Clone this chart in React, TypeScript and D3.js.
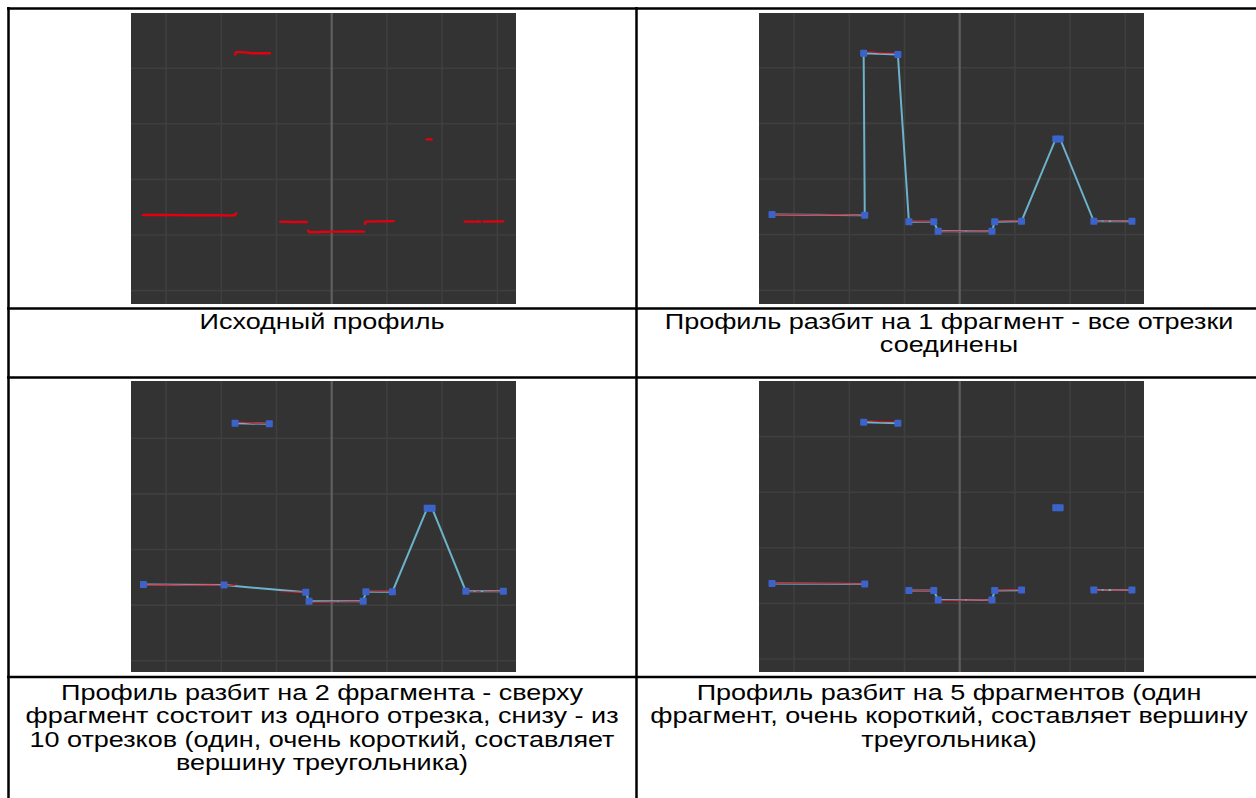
import React from "react";
import * as d3 from "d3";

// ---------- data (units: one grid cell = 1) ----------
const gridXTicks = [-3, -2, -1, 1, 2, 3];
const gridYTicks = [0, 1, 2, 3, 4];

// raw profile pieces (red point clouds)
const rawA: [number, number][] = [[-3.42, 1.36], [-3.0, 1.362], [-2.6, 1.355], [-2.2, 1.358], [-1.9, 1.35], [-1.76, 1.352], [-1.73, 1.39]];
const rawB: [number, number][] = [[-1.75, 4.25], [-1.73, 4.29], [-1.6, 4.29], [-1.45, 4.27], [-1.12, 4.268]];
const rawC: [number, number][] = [[-0.93, 1.24], [-0.7, 1.235], [-0.45, 1.235]];
const rawD1: [number, number][] = [[-0.43, 1.08], [-0.4, 1.05], [-0.2, 1.055], [0.1, 1.06]];
const rawD2: [number, number][] = [[0.13, 1.06], [0.4, 1.062], [0.585, 1.06]];
const rawE: [number, number][] = [[0.6, 1.2], [0.62, 1.24], [0.9, 1.245], [1.12, 1.25]];
const rawF: [number, number][] = [[1.72, 2.72], [1.81, 2.72]];
const rawG1: [number, number][] = [[2.41, 1.24], [2.57, 1.24]];
const rawG2: [number, number][] = [[2.61, 1.24], [2.69, 1.242]];
const rawG3: [number, number][] = [[2.75, 1.24], [3.11, 1.245]];
const rawPieces = [rawA, rawB, rawC, rawD1, rawD2, rawE, rawF, rawG1, rawG2, rawG3];

// fitted nodes (1 fragment / 5 fragments)
const nodes: [number, number][] = [
  [-3.4, 1.36], [-1.72, 1.35], [-1.74, 4.26], [-1.12, 4.24], [-0.92, 1.23], [-0.47, 1.23], [-0.39, 1.06],
  [0.585, 1.06], [0.634, 1.23], [1.12, 1.24], [1.74, 2.72], [1.82, 2.72], [2.43, 1.24], [3.12, 1.24],
];
const fragmentsOne = [[0, 1, 2, 3, 4, 5, 6, 7, 8, 9, 10, 11, 12, 13]];
const fragmentsFive = [[0, 1], [2, 3], [4, 5, 6, 7, 8, 9], [10, 11], [12, 13]];

// 2 fragments
const twoTop: [number, number][] = [[-1.75, 4.27], [-1.13, 4.26]];
const twoBottom: [number, number][] = [
  [-3.41, 1.37], [-1.95, 1.36], [-0.47, 1.23], [-0.41, 1.07], [0.57, 1.07], [0.62, 1.24],
  [1.1, 1.24], [1.73, 2.74], [1.82, 2.74], [2.43, 1.25], [3.11, 1.25],
];

const captions1 = ["Исходный профиль"];
const captions2 = ["Профиль разбит на 1 фрагмент - все отрезки", "соединены"];
const captions3 = [
  "Профиль разбит на 2 фрагмента - сверху",
  "фрагмент состоит из одного отрезка, снизу - из",
  "10 отрезков (один, очень короткий, составляет",
  "вершину треугольника)",
];
const captions4 = [
  "Профиль разбит на 5 фрагментов (один",
  "фрагмент, очень короткий, составляет вершину",
  "треугольника)",
];

// ---------- layout ----------
const PW = 385, PH = 291;
const BG = "#333333";
const GRID = "#3f3f3f";
const CENTER = "#5f5f5f";
const RED = "#e5000f";
const CYAN = "#6cb2cb";
const BLUE = "#3b63c9";

type Fit = [number, number][][];

function Plot({ x0, y0, yZero, fits, raw }: { x0: number; y0: number; yZero: number; fits: Fit | null; raw: boolean }) {
  const xs = d3.scaleLinear().domain([0, 1]).range([x0 + 200.7, x0 + 200.7 + 55.2]);
  const ys = d3.scaleLinear().domain([0, 1]).range([y0 + yZero, y0 + yZero - 55.6]);
  const line = d3.line<[number, number]>().x((d) => xs(d[0])).y((d) => ys(d[1]));
  const clipId = `clip-${x0}-${y0}`;
  return (
    <g>
      <defs>
        <clipPath id={clipId}>
          <rect x={x0} y={y0} width={PW} height={PH} />
        </clipPath>
      </defs>
      <rect x={x0} y={y0} width={PW} height={PH} fill={BG} />
      <g clipPath={`url(#${clipId})`}>
        {gridXTicks.map((t) => (
          <line key={"gx" + t} x1={xs(t)} x2={xs(t)} y1={y0} y2={y0 + PH} stroke={GRID} strokeWidth={1.6} />
        ))}
        {gridYTicks.map((t) => (
          <line key={"gy" + t} x1={x0} x2={x0 + PW} y1={ys(t)} y2={ys(t)} stroke={GRID} strokeWidth={1.6} />
        ))}
        <line x1={xs(0)} x2={xs(0)} y1={y0} y2={y0 + PH} stroke={CENTER} strokeWidth={2.2} />
        {fits &&
          fits.map((f, i) => (
            <path key={"f" + i} d={line(f) || ""} fill="none" stroke={CYAN} strokeWidth={2} />
          ))}
        {rawPieces.map((p, i) => (
          <path
            key={"r" + i}
            d={line(p) || ""}
            fill="none"
            stroke={RED}
            strokeWidth={raw ? 2.4 : 1.2}
            strokeOpacity={raw ? 1 : 0.75}
            strokeLinecap="round"
          />
        ))}
        {fits &&
          fits.flat().map((d, i) => (
            <rect key={"m" + i} x={xs(d[0]) - 3.5} y={ys(d[1]) - 3.5} width={7} height={7} fill={BLUE} rx={0.8} />
          ))}
      </g>
    </g>
  );
}

function Caption({ cx, y, lines }: { cx: number; y: number; lines: string[] }) {
  return (
    <g transform={`translate(${cx},0) scale(1.2,1)`}>
      <text x={0} y={y} textAnchor="middle" fontFamily="'Liberation Sans', Arial, sans-serif" fontSize={22.5} fill="#000">
        {lines.map((l, i) => (
          <tspan key={i} x={0} dy={i === 0 ? 0 : 23.4}>
            {l}
          </tspan>
        ))}
      </text>
    </g>
  );
}

export default function App() {
  const fitOne: Fit = fragmentsOne.map((f) => f.map((i) => nodes[i]));
  const fitFive: Fit = fragmentsFive.map((f) => f.map((i) => nodes[i]));
  const fitTwo: Fit = [twoTop, twoBottom];
  const hLines = [8.5, 308.5, 377.5, 677];
  const vLines = [8.5, 636.5];
  return (
    <svg width={1256} height={798} style={{ position: "fixed", left: 0, top: 0, background: "#fff" }}>
      <rect x={0} y={0} width={1256} height={798} fill="#fff" />
      <Plot x0={131} y0={13} yZero={277.6} fits={null} raw={true} />
      <Plot x0={759} y0={13} yZero={277.2} fits={fitOne} raw={false} />
      <Plot x0={131} y0={381} yZero={279.7} fits={fitTwo} raw={false} />
      <Plot x0={759} y0={381} yZero={278} fits={fitFive} raw={false} />
      <Caption cx={322} y={329} lines={captions1} />
      <Caption cx={949} y={329} lines={captions2} />
      <Caption cx={322} y={700} lines={captions3} />
      <Caption cx={949} y={700} lines={captions4} />
      {hLines.map((y) => (
        <line key={"h" + y} x1={7} x2={1256} y1={y} y2={y} stroke="#000" strokeWidth={2.5} />
      ))}
      {vLines.map((x) => (
        <line key={"v" + x} x1={x} x2={x} y1={7} y2={798} stroke="#000" strokeWidth={2.5} />
      ))}
    </svg>
  );
}
